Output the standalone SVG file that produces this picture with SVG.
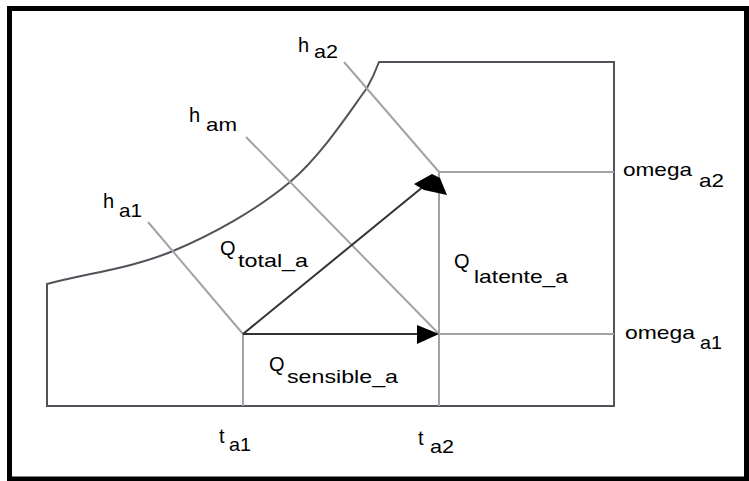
<svg xmlns="http://www.w3.org/2000/svg" width="749" height="481" viewBox="0 0 749 481">
<style>
.frame{fill:none;stroke:#000;stroke-width:5}
.outline{fill:none;stroke:#55505a;stroke-width:2}
.grid{fill:none;stroke:#a3a3a3;stroke-width:2}
.arrow{fill:none;stroke:#333;stroke-width:2}
.head{fill:#000}
text{font-family:"Liberation Sans",Arial,sans-serif;fill:#000;font-size:19px}
.m{font-size:20px}
</style>
<rect width="749" height="481" fill="#fff"/>
<rect class="frame" x="9.5" y="8.5" width="737" height="470.5"/>
<g id="chart">
<path class="outline" d="M47,406 L47,284 C89,273 132.5,268 173,251 C213.5,234 257.7,209.2 290,182 C322.3,154.8 352.2,108 367,88 C372,79 376,70 379,62 L614,62 L614,406 Z"/>
</g>
<g id="connectors">
<line class="grid" x1="148" y1="222" x2="243" y2="334"/>
<line class="grid" x1="246" y1="137" x2="439" y2="334"/>
<line class="grid" x1="344" y1="62" x2="439" y2="172"/>
<line class="grid" x1="439" y1="172" x2="614" y2="172"/>
<line class="grid" x1="439" y1="334" x2="614" y2="334"/>
<line class="grid" x1="243" y1="334" x2="243" y2="406"/>
<line class="grid" x1="439" y1="172" x2="439" y2="406"/>
<line class="arrow" x1="243" y1="334" x2="420" y2="334"/>
<polygon class="head" points="417,325 439,334 417,344"/>
<line class="arrow" x1="243" y1="334" x2="424" y2="186"/>
<polygon class="head" points="414,184 432,174 440,178 447,195 424,190"/>
</g>
<g id="label-ha2"><text class="m" x="298" y="52">h</text><text x="314" y="58" textLength="24" lengthAdjust="spacingAndGlyphs">a2</text></g>
<g id="label-ham"><text class="m" x="189" y="122">h</text><text x="206" y="131" textLength="31" lengthAdjust="spacingAndGlyphs">am</text></g>
<g id="label-ha1"><text class="m" x="103" y="208">h</text><text x="119" y="217" textLength="23" lengthAdjust="spacingAndGlyphs">a1</text></g>
<g id="label-qtotal"><text class="m" x="220" y="255">Q</text><text x="238" y="267" textLength="70" lengthAdjust="spacingAndGlyphs">total_a</text></g>
<g id="label-qlatente"><text class="m" x="454" y="268">Q</text><text x="474" y="283" textLength="94" lengthAdjust="spacingAndGlyphs">latente_a</text></g>
<g id="label-qsensible"><text class="m" x="269" y="371">Q</text><text x="287" y="383" textLength="111" lengthAdjust="spacingAndGlyphs">sensible_a</text></g>
<g id="label-omega2"><text x="623" y="176" textLength="69" lengthAdjust="spacingAndGlyphs">omega</text><text x="699" y="187" textLength="25" lengthAdjust="spacingAndGlyphs">a2</text></g>
<g id="label-omega1"><text x="625" y="339" textLength="70" lengthAdjust="spacingAndGlyphs">omega</text><text x="700" y="349" textLength="22" lengthAdjust="spacingAndGlyphs">a1</text></g>
<g id="label-ta1"><text class="m" x="219" y="443">t</text><text x="229" y="451" textLength="22" lengthAdjust="spacingAndGlyphs">a1</text></g>
<g id="label-ta2"><text class="m" x="418" y="445">t</text><text x="430" y="453" textLength="24" lengthAdjust="spacingAndGlyphs">a2</text></g>
</svg>
